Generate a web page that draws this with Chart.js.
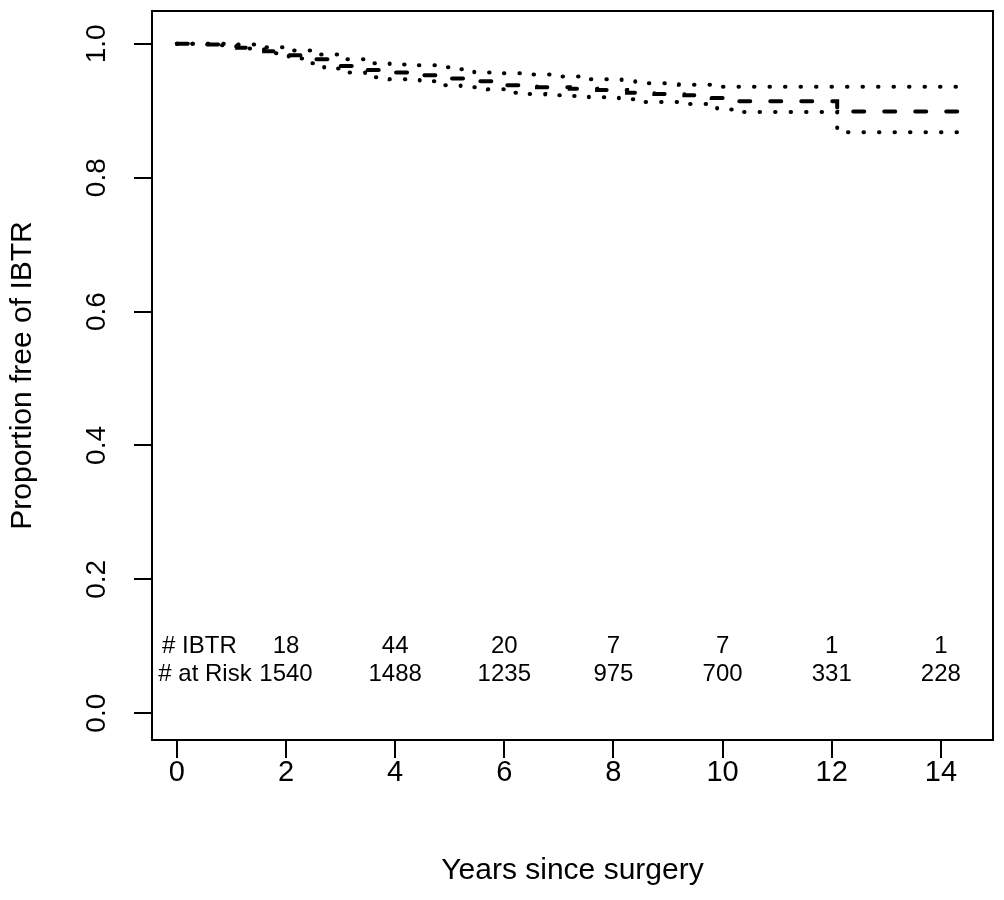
<!DOCTYPE html>
<html>
<head>
<meta charset="utf-8">
<script src="https://cdn.jsdelivr.net/npm/chart.js@4"></script>
<style>
  html, body { margin: 0; padding: 0; background: #fff; }
  #wrap { width: 1004px; height: 900px; position: relative; }
</style>
</head>
<body>
<div id="wrap"><canvas id="km"></canvas></div>
<script>
// Kaplan-Meier estimate (value after each step time)
var kmTimes = [0, 0.55, 0.85, 1.1, 1.6, 2.05, 2.5, 3.0, 3.45, 4.0, 4.5, 5.0, 5.55, 6.05, 6.6, 7.2, 7.7, 8.25, 8.75, 9.3, 9.8, 10.3, 12.1, 14.31];
var kmSurv  = [1, 0.999, 0.996, 0.994, 0.989, 0.983, 0.977, 0.967, 0.961, 0.957, 0.953, 0.948, 0.944, 0.938, 0.935, 0.933, 0.931, 0.927, 0.925, 0.923, 0.919, 0.914, 0.899, 0.899];

// upper confidence limit
var upTimes = [0, 1.0, 1.6, 2.05, 2.5, 3.0, 3.5, 3.9, 4.4, 4.9, 5.1, 5.45, 5.95, 6.45, 7.0, 7.55, 8.15, 8.4, 9.2, 10.0, 14.31];
var upSurv  = [1, 0.999, 0.995, 0.99, 0.984, 0.977, 0.971, 0.969, 0.968, 0.965, 0.962, 0.957, 0.956, 0.954, 0.951, 0.947, 0.944, 0.941, 0.939, 0.936, 0.936];

// lower confidence limit
var loTimes = [0, 0.8, 1.1, 1.6, 2.05, 2.45, 2.7, 3.15, 3.45, 3.9, 4.45, 4.8, 5.2, 5.7, 6.0, 6.45, 6.75, 7.2, 7.55, 8.1, 8.55, 9.2, 9.9, 10.3, 12.1, 14.31];
var loSurv  = [1, 0.998, 0.993, 0.986, 0.978, 0.971, 0.963, 0.957, 0.95, 0.947, 0.944, 0.938, 0.935, 0.932, 0.927, 0.925, 0.923, 0.922, 0.92, 0.917, 0.913, 0.91, 0.902, 0.898, 0.868, 0.868];

// risk table
var riskYears  = [2, 4, 6, 8, 10, 12, 14];
var ibtrCounts = [18, 44, 20, 7, 7, 1, 1];
var atRisk     = [1540, 1488, 1235, 975, 700, 331, 228];
var rowLabels  = ["# IBTR", "# at Risk"];

var xTitle = "Years since surgery";
var yTitle = "Proportion free of IBTR";

var FONT = '"Liberation Sans", Arial, Helvetica, sans-serif';

function pts(xs, ys) {
  var out = [];
  for (var i = 0; i < xs.length; i++) out.push({x: xs[i], y: ys[i]});
  return out;
}

// box, rotated y labels, titles and risk table
var rStyle = {
  id: 'rStyle',
  afterDraw: function (chart) {
    var ctx = chart.ctx;
    var a = chart.chartArea;
    var xs = chart.scales.x;
    var ys = chart.scales.y;
    ctx.save();
    ctx.strokeStyle = '#000';
    ctx.lineWidth = 2;
    ctx.strokeRect(a.left, a.top, a.right - a.left, a.bottom - a.top);

    ctx.fillStyle = '#000';
    ctx.textAlign = 'center';
    ctx.textBaseline = 'middle';

    // y tick labels, rotated like base R
    ctx.font = '28px ' + FONT;
    ys.ticks.forEach(function (t) {
      var py = ys.getPixelForValue(t.value);
      ctx.save();
      ctx.translate(97, py);
      ctx.rotate(-Math.PI / 2);
      ctx.fillText(t.value.toFixed(1), 0, 0);
      ctx.restore();
    });

    // axis titles
    ctx.font = '30px ' + FONT;
    ctx.fillText(xTitle, (a.left + a.right) / 2, 871);
    ctx.save();
    ctx.translate(23, (a.top + a.bottom) / 2);
    ctx.rotate(-Math.PI / 2);
    ctx.fillText(yTitle, 0, 0);
    ctx.restore();

    // risk table
    ctx.font = '24px ' + FONT;
    var y1 = ys.getPixelForValue(0.1);
    var y2 = ys.getPixelForValue(0.058);
    for (var i = 0; i < riskYears.length; i++) {
      var px = xs.getPixelForValue(riskYears[i]);
      ctx.fillText(String(ibtrCounts[i]), px, y1);
      ctx.fillText(String(atRisk[i]), px, y2);
    }
    ctx.textAlign = 'left';
    ctx.fillText(rowLabels[0], xs.getPixelForValue(-0.27), y1);
    ctx.fillText(rowLabels[1], xs.getPixelForValue(-0.34), y2);
    ctx.restore();
  }
};

function curve(xs, ys, dash) {
  return {
    data: pts(xs, ys),
    stepped: 'before',
    borderColor: '#000',
    borderWidth: 4,
    borderDash: dash,
    borderCapStyle: 'round',
    pointRadius: 0,
    fill: false
  };
}

var ctx = document.getElementById('km');
var kmChart = new Chart(ctx, {
  type: 'line',
  data: {
    datasets: [
      curve(kmTimes, kmSurv, [11, 20]),
      curve(upTimes, upSurv, [0.5, 15]),
      curve(loTimes, loSurv, [0.5, 15])
    ]
  },
  options: {
    responsive: true,
    maintainAspectRatio: false,
    animation: false,
    layout: { padding: { top: 11, right: 11, left: 0, bottom: 0 } },
    plugins: { legend: { display: false }, tooltip: { enabled: false } },
    scales: {
      x: {
        type: 'linear',
        min: -0.455,
        max: 14.955,
        ticks: {
          stepSize: 2,
          includeBounds: false,
          color: '#000',
          font: { size: 29, family: FONT },
          padding: -2,
          maxRotation: 0
        },
        grid: { drawOnChartArea: false, drawTicks: true, tickLength: 18, lineWidth: 2, color: '#000' },
        border: { display: true, color: '#000', width: 2 },
        afterFit: function (s) { s.height = 160; }
      },
      y: {
        type: 'linear',
        min: -0.040,
        max: 1.049,
        ticks: { stepSize: 0.2, includeBounds: false, display: false },
        grid: { drawOnChartArea: false, drawTicks: true, tickLength: 18, lineWidth: 2, color: '#000' },
        border: { display: true, color: '#000', width: 2 },
        afterFit: function (s) { s.width = 152; }
      }
    }
  },
  plugins: [rStyle]
});
</script>
</body>
</html>
